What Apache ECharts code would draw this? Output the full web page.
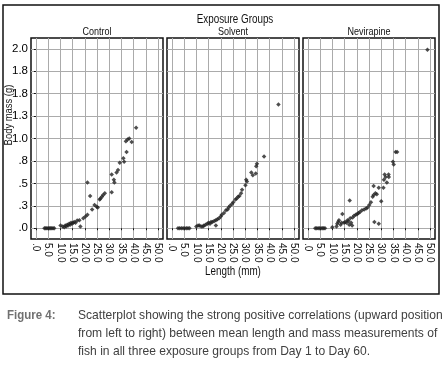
<!DOCTYPE html>
<html>
<head>
<meta charset="utf-8">
<script src="https://cdn.jsdelivr.net/npm/echarts@6/dist/echarts.min.js"></script>
<style>
  html, body { margin: 0; padding: 0; background: #fff; }
  #chart { width: 447px; height: 366px; }
</style>
</head>
<body>
<div id="chart"></div>
<script>
  const groups = ["Control", "Solvent", "Nevirapine"];
  const xTicks = [0, 5, 10, 15, 20, 25, 30, 35, 40, 45, 50];
  const xTickLabels = [".0", "5.0", "10.0", "15.0", "20.0", "25.0", "30.0", "35.0", "40.0", "45.0", "50.0"];
  const yTicks = [0, 0.25, 0.5, 0.75, 1, 1.25, 1.5, 1.75, 2];
  const yTickLabels = [".0", ".3", ".5", ".8", "1.0", "1.3", "1.8", "1.8", "2.0"];

  // [length (mm), body mass (g)]
  const controlPoints = [
    [3.5, 0], [4, 0], [4.5, 0], [5, 0], [5.5, 0], [6, 0], [6.5, 0], [7, 0], [7.5, 0],
    [10.1, 0.03], [11, 0.02], [11.6, 0.01], [12, 0.03], [12.4, 0.02], [12.8, 0.04], [13.2, 0.03],
    [13.6, 0.05], [14, 0.04], [14.4, 0.06], [14.8, 0.05], [15.2, 0.06], [15.7, 0.07], [16.2, 0.06],
    [16.9, 0.085], [17.8, 0.09], [18.2, 0.02], [19.4, 0.11], [20.3, 0.13], [21.1, 0.15],
    [21.1, 0.51], [22.2, 0.36], [23, 0.21], [24, 0.26], [24.9, 0.24], [25.3, 0.23],
    [26.1, 0.32], [26.4, 0.33], [27, 0.35], [27.5, 0.37], [28.2, 0.39],
    [31, 0.4], [31, 0.6], [31.9, 0.54], [32.1, 0.51], [33, 0.62], [33.6, 0.65], [34.3, 0.73],
    [35.8, 0.78], [36.1, 0.74], [37.1, 0.85], [36.8, 0.97], [37.5, 0.99], [38.2, 1.0], [39.2, 0.96],
    [41, 1.12]
  ];
  const solventPoints = [
    [2.5, 0], [3.2, 0], [3.9, 0], [4.6, 0], [5.3, 0], [6, 0], [6.6, 0], [7.2, 0],
    [10, 0.02], [10.7, 0.03], [11.3, 0.03], [12, 0.02], [12.7, 0.02], [13.1, 0.03], [13.8, 0.04],
    [14.5, 0.05], [15, 0.06], [15.6, 0.05], [16, 0.07], [16.6, 0.07], [17.3, 0.08], [18, 0.09],
    [18, 0.03], [18.6, 0.1], [19.3, 0.11], [20, 0.13], [20.4, 0.15], [21.3, 0.17], [22.1, 0.2],
    [22.8, 0.21], [23.2, 0.23], [23.8, 0.25], [24.6, 0.27], [25.1, 0.29], [26, 0.32], [26.5, 0.33],
    [27.1, 0.35], [27.6, 0.36], [28.3, 0.39], [28.7, 0.43], [30.1, 0.48], [30.7, 0.52], [30.4, 0.54],
    [32.5, 0.62], [33.1, 0.59], [34.3, 0.61], [34.5, 0.69], [34.8, 0.72], [37.7, 0.8], [43.6, 1.38]
  ];
  const nevirapinePoints = [
    [3, 0], [3.6, 0], [4.2, 0], [4.8, 0], [5.4, 0], [6, 0], [6.5, 0], [7, 0],
    [10, 0.01], [11.7, 0.02], [12, 0.05], [12.4, 0.07], [12.7, 0.09], [13.4, 0.04], [13.8, 0.06],
    [14.1, 0.16], [14.8, 0.06], [15.2, 0.07], [15.8, 0.06], [16.2, 0.09], [16.6, 0.08], [16.9, 0.04],
    [17.3, 0.11], [17.7, 0.06], [18.1, 0.03], [18.3, 0.12], [18.9, 0.14], [19.6, 0.15], [20.2, 0.16],
    [20.7, 0.17], [21.3, 0.18], [22.1, 0.2], [17.1, 0.31], [23, 0.21], [23.8, 0.22], [24.4, 0.23],
    [25.1, 0.26], [25.8, 0.29], [27.2, 0.07], [29, 0.05], [26.5, 0.35], [26.9, 0.37], [27.6, 0.39],
    [26.9, 0.47], [28.2, 0.38], [29, 0.45], [30, 0.3], [30.9, 0.45], [31.1, 0.54], [31.4, 0.6],
    [31.8, 0.57], [32.3, 0.51], [33, 0.6], [33.1, 0.57], [34.8, 0.74], [35.1, 0.71], [35.9, 0.85],
    [36.5, 0.85], [48.9, 1.99]
  ];
  const groupPoints = [controlPoints, solventPoints, nevirapinePoints];

  const captionLines = [
    "Scatterplot showing the strong positive correlations (upward position",
    "from left to right) between mean length and mass measurements of",
    "fish in all three exposure groups from Day 1 to Day 60."
  ];

  // no narrow face installed: squeeze Liberation Sans horizontally instead
  const font = '"Liberation Sans", Arial, sans-serif';
  const narrow = 0.82;
  const panelLefts = [31, 167, 303];
  const panelWidth = 132;

  const chart = echarts.init(document.getElementById("chart"));

  const grids = panelLefts.map((left) => ({
    left, top: 38, width: panelWidth, height: 201,
    show: true, borderColor: "#111", borderWidth: 1.5, backgroundColor: "transparent"
  }));

  const xAxes = groups.map((_, i) => ({
    type: "value", gridIndex: i, min: -2, max: 52,
    axisLine: { show: false },
    axisTick: { show: true, length: 2, customValues: xTicks, lineStyle: { color: "#111" } },
    axisLabel: {
      customValues: xTicks, rotate: -90, margin: 4, fontFamily: font, fontSize: 10, color: "#111",
      formatter: (v) => xTickLabels[xTicks.indexOf(v)]
    },
    splitLine: { show: true, lineStyle: { color: "#ababab", width: 1 } }
  }));

  const yAxes = groups.map((_, i) => ({
    type: "value", gridIndex: i, min: -0.12, max: 2.12,
    axisLine: { show: false },
    axisTick: { show: i === 0, length: 2, customValues: yTicks, lineStyle: { color: "#111" } },
    axisLabel: {
      show: i === 0, customValues: yTicks, margin: 3, fontFamily: font, fontSize: 11.5, color: "#000",
      formatter: (v) => yTickLabels[Math.round(v / 0.25)]
    },
    splitLine: { show: true, lineStyle: { color: "#ababab", width: 1 } }
  }));

  const series = groups.map((name, i) => ({
    name, type: "scatter", xAxisIndex: i, yAxisIndex: i,
    data: groupPoints[i], symbol: "diamond", symbolSize: 4.5,
    itemStyle: { color: "#222" }, clip: false
  }));

  function label(text, x, y, size, opts) {
    return Object.assign({
      type: "text", x, y, scaleX: narrow,
      style: { text, font: `${size}px ${font}`, fill: "#111", textAlign: "center", textVerticalAlign: "middle" }
    }, opts || {});
  }

  const graphic = [
    { type: "rect", shape: { x: 3, y: 5, width: 436, height: 289 }, style: { fill: "none", stroke: "#111", lineWidth: 1.5 } },
    label("Exposure Groups", 235, 20, 12),
    ...groups.map((name, i) => label(name, panelLefts[i] + panelWidth / 2, 32, 11)),
    label("Body mass (g)", 8.5, 115, 11.5, { rotation: Math.PI / 2 }),
    label("Length (mm)", 233, 272, 12),
    {
      type: "text", x: 7, y: 315, scaleX: 0.85,
      style: { text: "Figure 4:", font: `bold 13.5px ${font}`, fill: "#707070", textVerticalAlign: "middle" }
    },
    ...captionLines.map((line, i) => ({
      type: "text", x: 78, y: 315 + i * 18, scaleX: 0.895,
      style: { text: line, font: `13.5px ${font}`, fill: "#404040", textVerticalAlign: "middle" }
    }))
  ];

  chart.setOption({
    animation: false,
    grid: grids,
    xAxis: xAxes,
    yAxis: yAxes,
    series,
    graphic
  });
</script>
</body>
</html>
